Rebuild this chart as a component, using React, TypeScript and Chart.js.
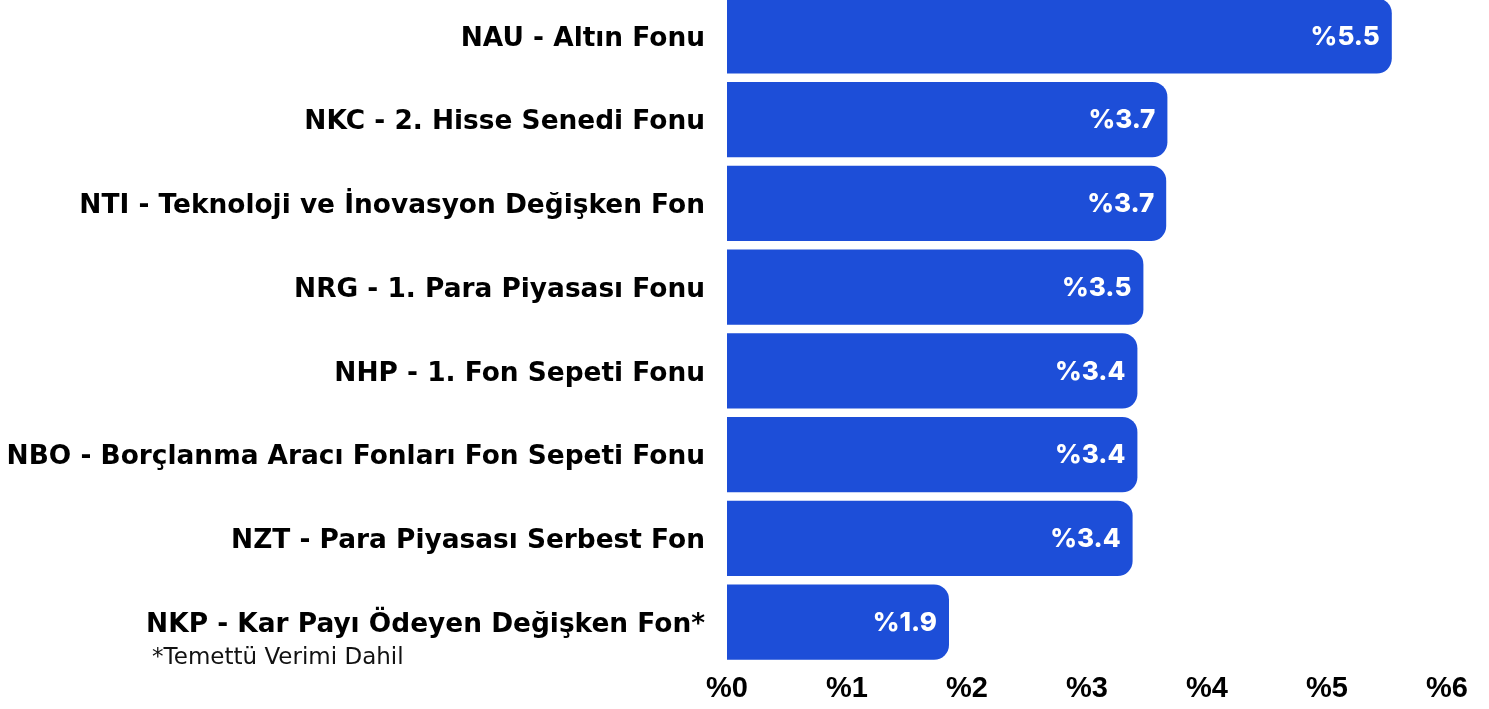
import React, { useEffect, useRef } from "react";
import { Chart, registerables } from "chart.js";

Chart.register(...registerables);

const categories = [
  "NAU - Altın Fonu",
  "NKC - 2. Hisse Senedi Fonu",
  "NTI - Teknoloji ve İnovasyon Değişken Fon",
  "NRG - 1. Para Piyasası Fonu",
  "NHP - 1. Fon Sepeti Fonu",
  "NBO - Borçlanma Aracı Fonları Fon Sepeti Fonu",
  "NZT - Para Piyasası Serbest Fon",
  "NKP - Kar Payı Ödeyen Değişken Fon*",
];
const values = [5.54, 3.67, 3.66, 3.47, 3.42, 3.42, 3.38, 1.85];
const valueLabels = ["%5.5", "%3.7", "%3.7", "%3.5", "%3.4", "%3.4", "%3.4", "%1.9"];
const xTicks = [0, 1, 2, 3, 4, 5, 6];
const footnote = "*Temettü Verimi Dahil";

const FONT = "Inter, 'Noto Sans', sans-serif";
const LABEL_FONT = "'DejaVu Sans', sans-serif";
const AXIS_FONT = "'Liberation Sans', Arial, sans-serif";
const BLUE = "#1d4ed8";

export default function App() {
  const ref = useRef<HTMLCanvasElement | null>(null);
  useEffect(() => {
    if (!ref.current) return;
    const labelPlugin = {
      id: "valueLabels",
      afterDatasetsDraw(chart: any) {
        const ctx = chart.ctx;
        const meta = chart.getDatasetMeta(0);
        ctx.save();
        ctx.fillStyle = "#ffffff";
        ctx.font = `800 26px ${FONT}`;
        ctx.textAlign = "right";
        ctx.textBaseline = "middle";
        meta.data.forEach((bar: any, i: number) => {
          ctx.fillText(valueLabels[i], bar.x - 12, bar.y + 1);
        });
        // footnote under last category label
        const yScale = chart.scales.y;
        const last = categories.length - 1;
        ctx.font = `bold 26.4px ${LABEL_FONT}`;
        const w = ctx.measureText(categories[last]).width;
        const right = chart.chartArea.left - 22;
        const yPos = yScale.getPixelForValue(last);
        ctx.font = `normal 23px ${LABEL_FONT}`;
        ctx.fillStyle = "#111111";
        ctx.textAlign = "left";
        ctx.fillText(footnote, right - w + 6, yPos + 36);
        ctx.restore();
      },
    };
    const chart = new Chart(ref.current, {
      type: "bar",
      data: {
        labels: categories,
        datasets: [
          {
            data: values,
            backgroundColor: BLUE,
            borderRadius: 15,
            borderSkipped: "start",
            barPercentage: 0.9,
            categoryPercentage: 1.0,
          },
        ],
      },
      options: {
        indexAxis: "y",
        animation: false,
        responsive: false,
        maintainAspectRatio: false,
        layout: { padding: { left: 0, right: 42, top: 0, bottom: 0 } },
        plugins: { legend: { display: false }, tooltip: { enabled: false } },
        scales: {
          x: {
            min: 0,
            max: 6,
            afterFit(scale: any) {
              scale.height = 45;
              scale.paddingLeft = 0;
              scale.paddingRight = 0;
            },
            afterBuildTicks(scale: any) {
              scale.ticks = xTicks.map((v) => ({ value: v }));
            },
            grid: { display: false, drawTicks: false },
            border: { display: false },
            ticks: {
              padding: 8,
              color: "#000000",
              font: { family: AXIS_FONT, size: 29, weight: "bold" },
              callback: (v: any) => "%" + v,
            },
          },
          y: {
            afterFit(scale: any) {
              scale.width = 727;
              scale.paddingTop = 0;
              scale.paddingBottom = 0;
            },
            grid: { display: false, drawTicks: false },
            border: { display: false },
            ticks: {
              padding: 22,
              labelOffset: 3,
              color: "#000000",
              font: { family: LABEL_FONT, size: 26.4, weight: "bold" },
            },
          },
        },
      },
      plugins: [labelPlugin],
    });
    return () => chart.destroy();
  }, []);
  return (
    <div style={{ position: "absolute", left: 0, top: 0, width: 1489, height: 709, overflow: "hidden", background: "#fff" }}>
      <canvas ref={ref} width={1489} height={715} style={{ position: "absolute", left: 0, top: -6 }} />
    </div>
  );
}
